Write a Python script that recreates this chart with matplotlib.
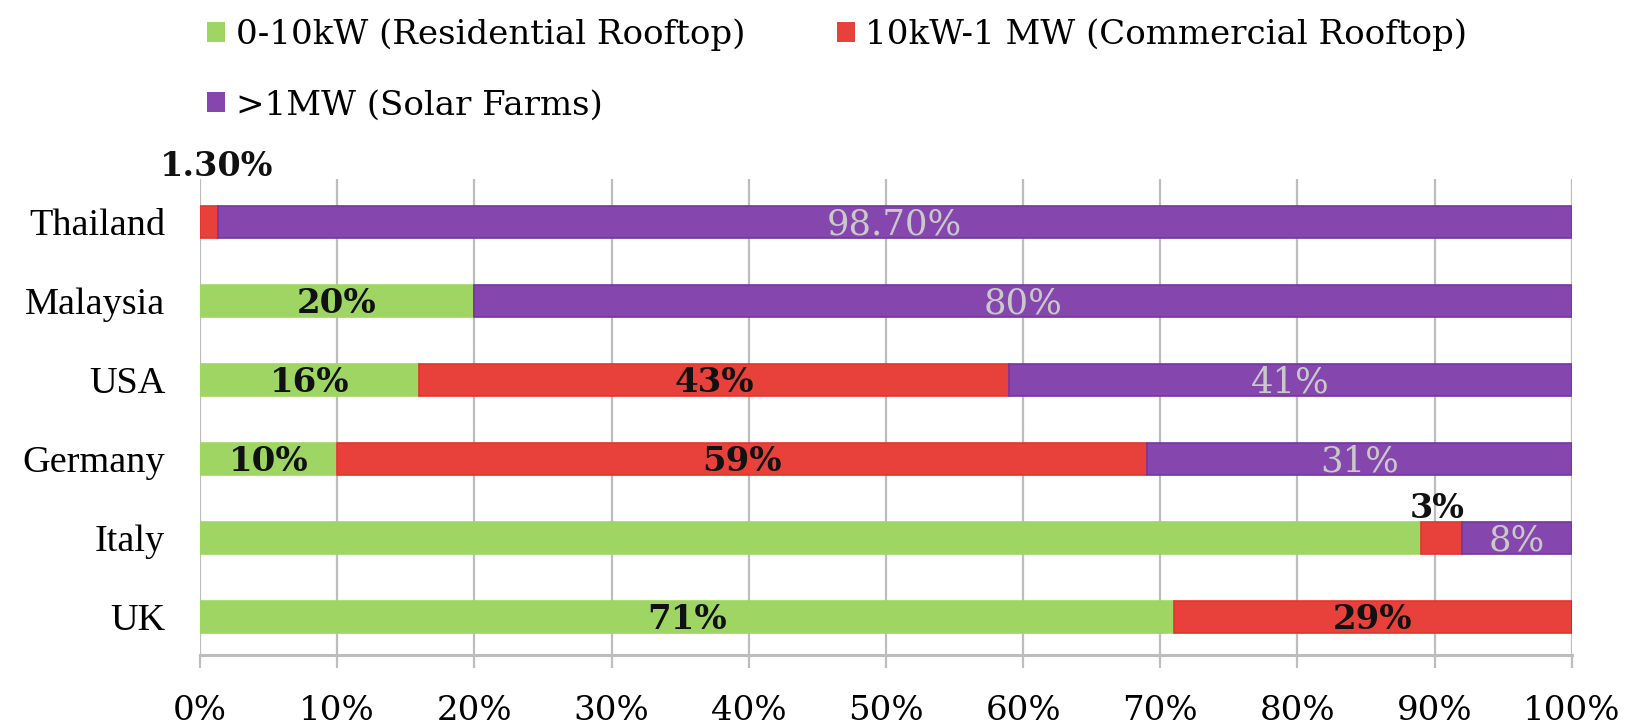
import matplotlib
matplotlib.use("Agg")
import matplotlib.pyplot as plt
from matplotlib.patches import Patch

countries = ["UK", "Italy", "Germany", "USA", "Malaysia", "Thailand"]
residential = [71, 89, 10, 16, 20, 0]
commercial = [29, 3, 59, 43, 0, 1.3]
solar_farms = [0, 8, 31, 41, 80, 98.7]

# segment labels as printed on the bars ("" = no label)
residential_labels = ["71%", "", "10%", "16%", "20%", ""]
commercial_labels = ["29%", "3%", "59%", "43%", "", "1.30%"]
solar_labels = ["", "8%", "31%", "41%", "80%", "98.70%"]

series_names = ["0-10kW (Residential Rooftop)",
                "10kW-1 MW (Commercial Rooftop)",
                ">1MW (Solar Farms)"]
colors = ["#9fd663", "#e8403a", "#8547ad"]
edge_colors = ["#9fd663", "#e5342c", "#7634a4"]
label_colors = ["#111111", "#111111", "#c9c9c9"]
label_weights = ["bold", "bold", "normal"]
x_ticks = [0, 10, 20, 30, 40, 50, 60, 70, 80, 90, 100]

NUM_FONT = "DejaVu Serif"
CAT_FONT = "Liberation Serif"
plt.rcParams["font.family"] = [NUM_FONT]

fig = plt.figure(figsize=(16.36, 7.26), dpi=100)
ax = fig.add_axes([0.1222, 0.0978, 0.8386, 0.6556])

grid_color = "#bdbdbd"
ys = list(range(len(countries)))
left = [0.0] * len(countries)
for values, labels, col, ecol, lcol, lw in zip(
        [residential, commercial, solar_farms],
        [residential_labels, commercial_labels, solar_labels],
        colors, edge_colors, label_colors, label_weights):
    ax.barh(ys, values, left=left, height=0.40, color=col, edgecolor=ecol,
            linewidth=1.2, zorder=3)
    for y, v, l, text in zip(ys, values, left, labels):
        if not text:
            continue
        if v < 5:
            # narrow segments: value sits above the bar
            if countries[y] == "Thailand":
                ax.text(l + v / 2 + 0.6, y + 0.70, text, ha="center", va="center",
                        fontsize=24, fontweight="bold", color="#111111", zorder=4)
            else:
                ax.text(l + v / 2 - 0.3, y + 0.37, text, ha="center", va="center",
                        fontsize=24, fontweight="bold", color="#111111", zorder=4)
            continue
        ax.text(l + v / 2, y - 0.03, text, ha="center", va="center",
                fontsize=24.5 if lw == "bold" else 25.5, fontweight=lw,
                color=lcol, zorder=4)
    left = [a + b for a, b in zip(left, values)]

ax.set_xlim(0, 100)
ax.set_ylim(-0.48, 5.54)
ax.set_yticks(ys)
ax.set_yticklabels(countries, fontsize=27.5, family=CAT_FONT)
ax.set_xticks(x_ticks)
ax.set_xticklabels([f"{t}%" for t in x_ticks], fontsize=24.5)
ax.tick_params(axis="y", length=0, pad=25)
ax.tick_params(axis="x", length=9, width=1.6, color=grid_color, pad=20)
ax.grid(axis="x", color=grid_color, linewidth=1.6, zorder=0)
for s in ["top", "right", "left"]:
    ax.spines[s].set_visible(False)
ax.spines["bottom"].set_color(grid_color)
ax.spines["bottom"].set_linewidth(2.2)

# legend filled column-wise: green/purple in the first column, red in the second
order = [0, 2, 1]
handles = [Patch(facecolor=colors[i], edgecolor="none") for i in order]
fig.legend(handles, [series_names[i] for i in order], loc="upper left",
           bbox_to_anchor=(0.108, 1.017), ncol=2, frameon=False, fontsize=24.5,
           handlelength=0.53, handleheight=0.53, handletextpad=0.3,
           columnspacing=2.7, labelspacing=1.13)

fig.savefig("out.png", dpi=100)
